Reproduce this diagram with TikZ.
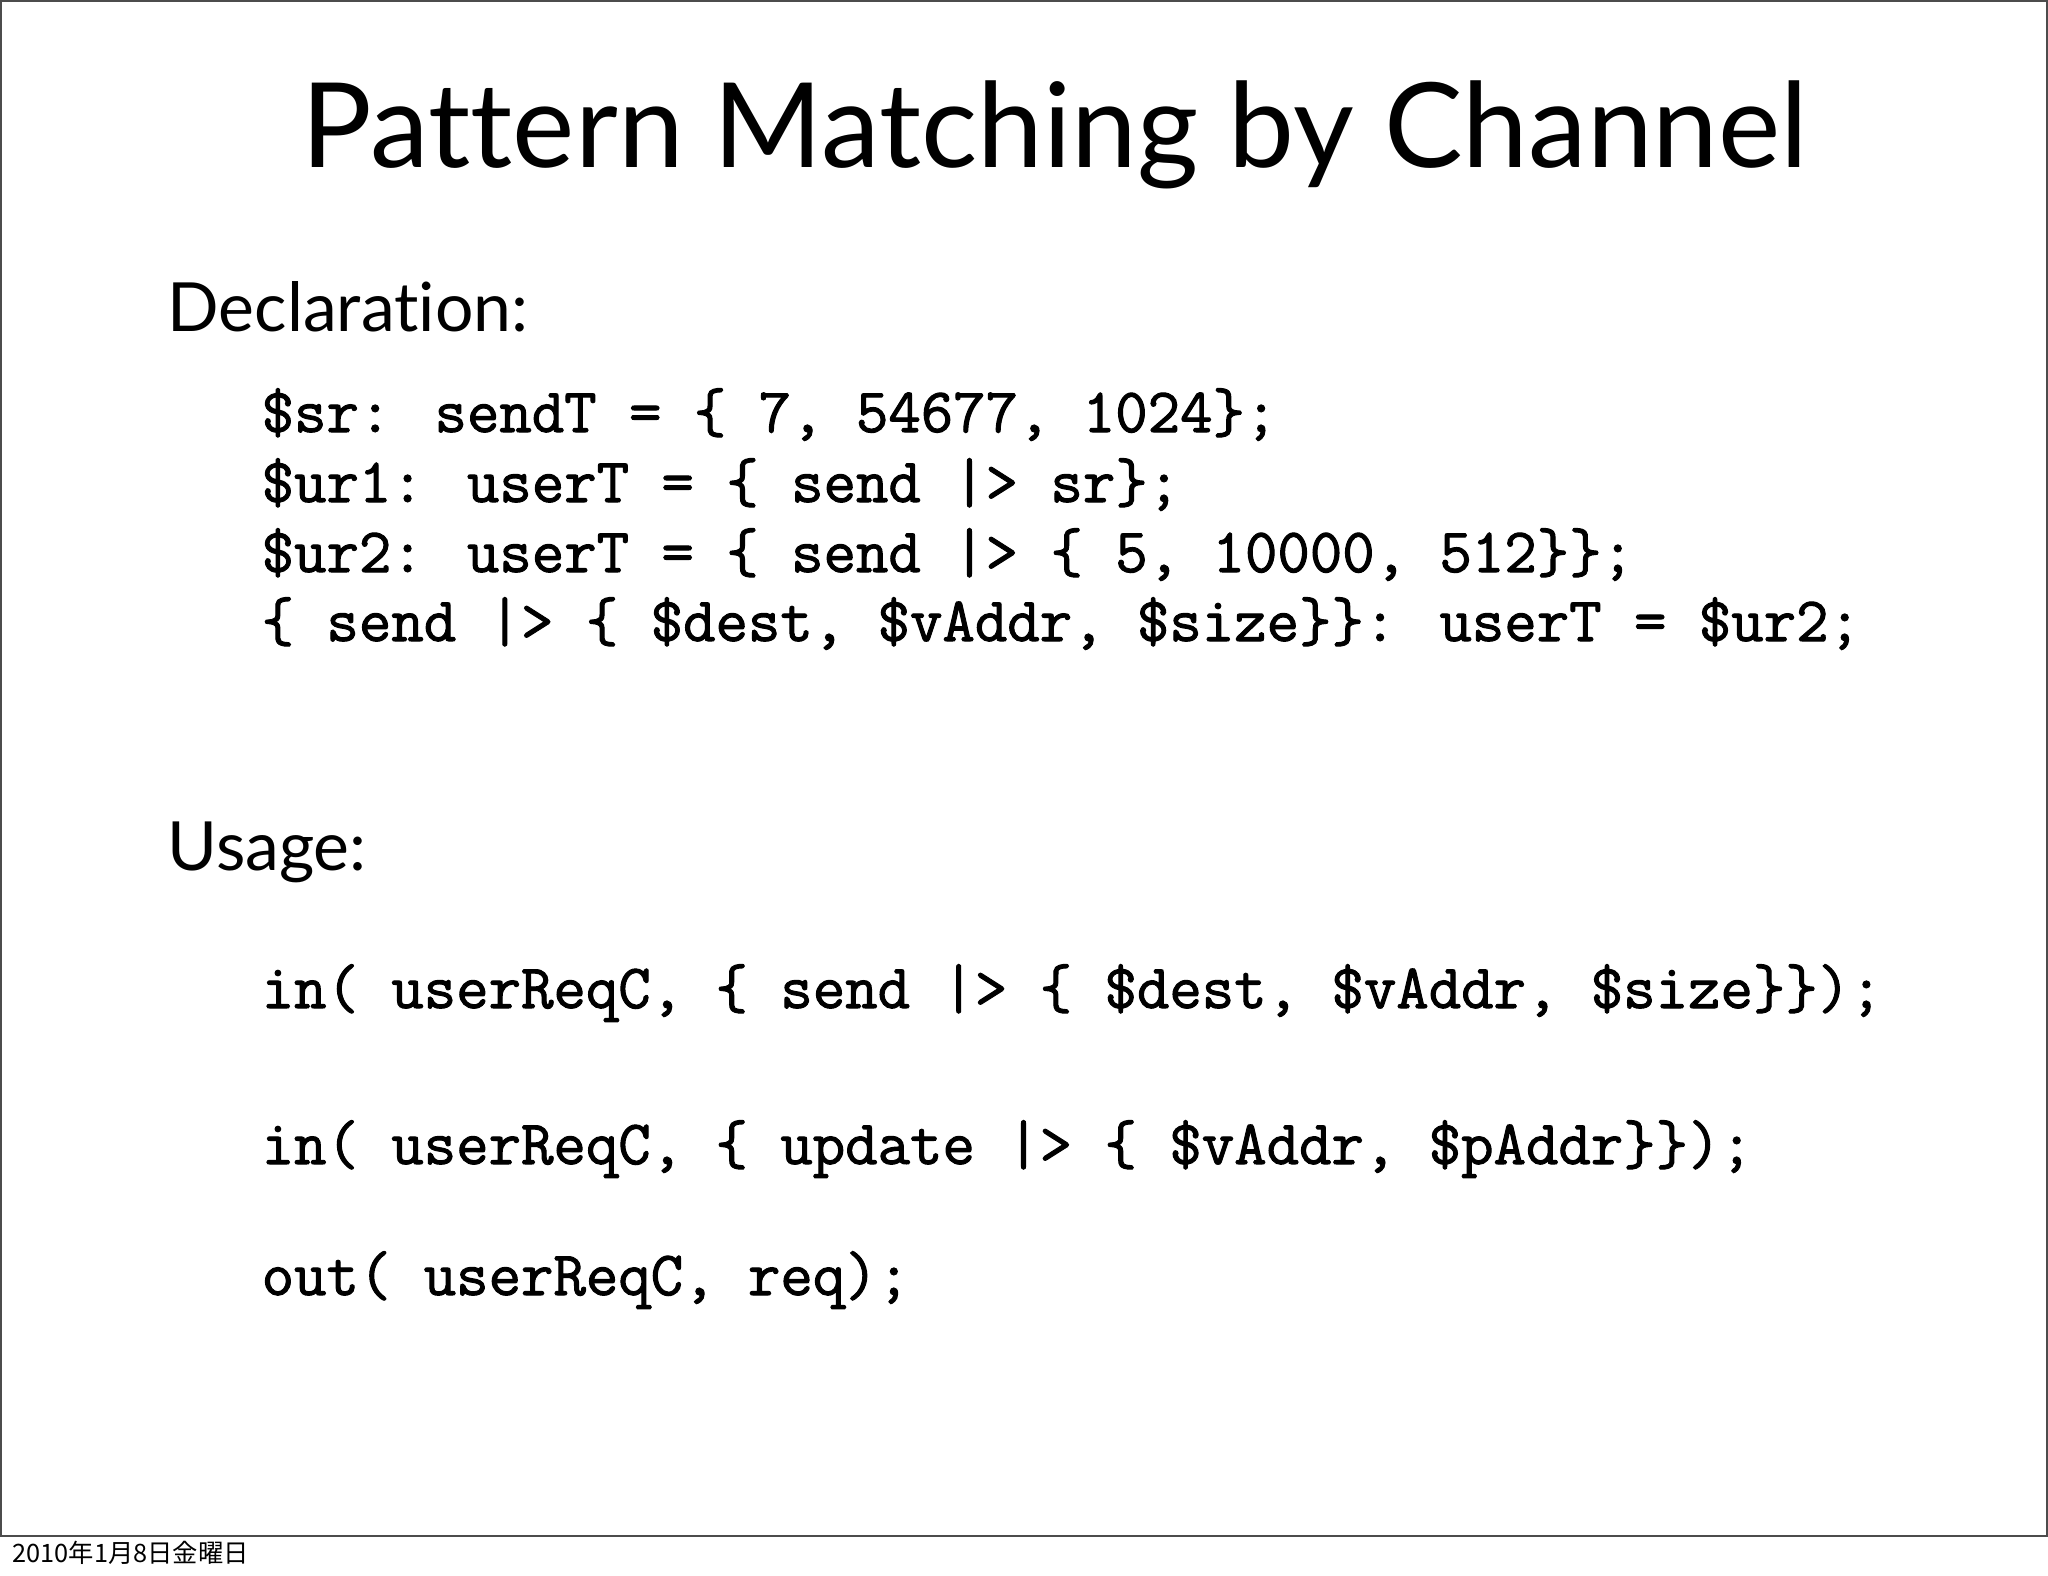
\documentclass[tikz,border=0pt]{standalone}
\usepackage{fontspec}
\setmainfont{Lato}[Ligatures=NoCommon]
\newfontfamily\cjk{Noto Sans CJK JP}
\newfontfamily\codefont{Latin Modern Mono}[FakeBold=1.6]
\begin{document}
\begin{tikzpicture}[x=0.01cm,y=-0.01cm,
  title/.style={anchor=base,font=\fontsize{33.5}{36}\selectfont},
  head/.style={anchor=base west,inner sep=0,font=\fontsize{19.3}{22}\selectfont},
  code/.style={anchor=base west,inner sep=0,font=\codefont\fontsize{17.9}{20}\selectfont}]
\useasboundingbox (0,0) rectangle (2048,1576);
\draw[line width=0.6pt,black!70] (1,1) rectangle (2047,1536);
\node[title] (t) at (1055,168) {Pattern Matching by Channel};
\node[head] (d) at (167,331) {Declaration:};
\node[head] (u) at (167,870) {Usage:};
\node[code] (c1) at (261,432) {\$sr: sendT = \{ 7, 54677, 1024\};};
\node[code] (c2) at (261,502) {\$ur1: userT = \{ send |> sr\};};
\node[code] (c3) at (261,572) {\$ur2: userT = \{ send |> \{ 5, 10000, 512\}\};};
\node[code] (c4) at (261,641) {\{ send |> \{ \$dest, \$vAddr, \$size\}\}: userT = \$ur2;};
\node[code] (u1) at (261,1008) {in( userReqC, \{ send |> \{ \$dest, \$vAddr, \$size\}\});};
\node[code] (u2) at (261,1164) {in( userReqC, \{ update |> \{ \$vAddr, \$pAddr\}\});};
\node[code] (u3) at (261,1295) {out( userReqC, req);};
\node[anchor=base west,inner sep=0,font=\cjk\fontsize{7.2}{9}\selectfont] (f) at (12,1562) {2010年1月8日金曜日};
\end{tikzpicture}
\end{document}
